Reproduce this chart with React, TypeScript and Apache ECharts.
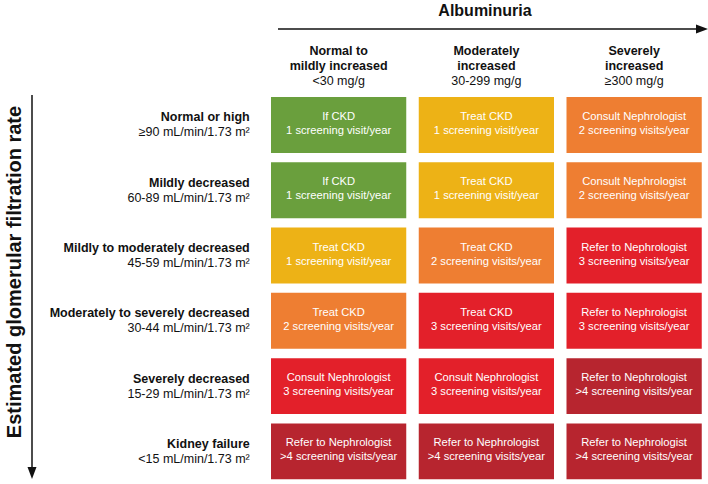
import React, { useEffect, useRef } from "react";
import * as echarts from "echarts";

const columnTitles = ["Normal to\nmildly increased", "Moderately\nincreased", "Severely\nincreased"];
const columnRanges = ["<30 mg/g", "30-299 mg/g", "≥300 mg/g"];
const rowTitles = [
  "Normal or high",
  "Mildly decreased",
  "Mildly to moderately decreased",
  "Moderately to severely decreased",
  "Severely decreased",
  "Kidney failure",
];
const rowRanges = [
  "≥90 mL/min/1.73 m²",
  "60-89 mL/min/1.73 m²",
  "45-59 mL/min/1.73 m²",
  "30-44 mL/min/1.73 m²",
  "15-29 mL/min/1.73 m²",
  "<15 mL/min/1.73 m²",
];
// rows x columns
const actions = [
  ["If CKD", "Treat CKD", "Consult Nephrologist"],
  ["If CKD", "Treat CKD", "Consult Nephrologist"],
  ["Treat CKD", "Treat CKD", "Refer to Nephrologist"],
  ["Treat CKD", "Treat CKD", "Refer to Nephrologist"],
  ["Consult Nephrologist", "Consult Nephrologist", "Refer to Nephrologist"],
  ["Refer to Nephrologist", "Refer to Nephrologist", "Refer to Nephrologist"],
];
const visits = [
  ["1 screening visit/year", "1 screening visit/year", "2 screening visits/year"],
  ["1 screening visit/year", "1 screening visit/year", "2 screening visits/year"],
  ["1 screening visit/year", "2 screening visits/year", "3 screening visits/year"],
  ["2 screening visits/year", "3 screening visits/year", "3 screening visits/year"],
  ["3 screening visits/year", "3 screening visits/year", ">4 screening visits/year"],
  [">4 screening visits/year", ">4 screening visits/year", ">4 screening visits/year"],
];
// risk level: 0 green, 1 yellow, 2 orange, 3 red, 4 dark red
const riskLevels = [
  [0, 1, 2],
  [0, 1, 2],
  [1, 2, 3],
  [2, 3, 3],
  [3, 3, 4],
  [4, 4, 4],
];
const levelColors = ["#6A9F3D", "#EDB216", "#EE7E32", "#E3202A", "#B7252F"];

const FONT = "Arial, 'Liberation Sans', sans-serif";

export default function App() {
  const ref = useRef<HTMLDivElement>(null);
  useEffect(() => {
    if (!ref.current) return;
    const chart = echarts.init(ref.current, null, { renderer: "svg" });
    const data: any[] = [];
    riskLevels.forEach((row, r) => {
      row.forEach((lvl, c) => {
        data.push([c, r, lvl, actions[r][c], visits[r][c]]);
      });
    });
    const option: any = {
      animation: false,
      textStyle: { fontFamily: FONT },
      grid: { left: 264.75, top: 92.3, width: 445.5, height: 392.4, containLabel: false },
      xAxis: {
        type: "category",
        position: "top",
        data: columnTitles.map((t, i) => t + "\n" + columnRanges[i]),
        axisLine: { show: false },
        axisTick: { show: false },
        splitLine: { show: false },
        axisLabel: {
          margin: 3,
          interval: 0,
          formatter: (_: string, i: number) =>
            columnTitles[i]
              .split("\n")
              .map((l) => "{b|" + l + "}")
              .join("\n") +
            "\n{n|" + columnRanges[i] + "}",
          rich: {
            b: { fontFamily: FONT, fontSize: 12.5, fontWeight: "bold", color: "#111", lineHeight: 15 },
            n: { fontFamily: FONT, fontSize: 12.5, color: "#111", lineHeight: 16 },
          },
        },
      },
      yAxis: {
        type: "category",
        inverse: true,
        data: rowTitles,
        axisLine: { show: false },
        axisTick: { show: false },
        splitLine: { show: false },
        axisLabel: {
          margin: 15,
          interval: 0,
          align: "right",
          formatter: (_: string, i: number) => "{b|" + rowTitles[i] + "}\n{n|" + rowRanges[i] + "}",
          rich: {
            b: { fontFamily: FONT, fontSize: 12.5, fontWeight: "bold", color: "#111", lineHeight: 15, align: "right" },
            n: { fontFamily: FONT, fontSize: 12.5, color: "#111", lineHeight: 15, align: "right" },
          },
        },
      },
      series: [
        {
          type: "custom",
          data,
          renderItem: (params: any, api: any) => {
            const c = api.coord([api.value(0), api.value(1)]);
            const s = api.size([1, 1]);
            const w = s[0] - 12.5;
            const h = s[1] - 9.4;
            const lvl = api.value(2);
            const idx = params.dataIndex;
            const d = data[idx];
            return {
              type: "group",
              children: [
                {
                  type: "rect",
                  shape: { x: c[0] - w / 2, y: c[1] - h / 2, width: w, height: h },
                  style: { fill: levelColors[lvl] },
                },
                {
                  type: "text",
                  style: {
                    x: c[0],
                    y: c[1] - 2,
                    text: d[3] + "\n" + d[4],
                    fill: "#fff",
                    fontFamily: FONT,
                    fontSize: 11.2,
                    lineHeight: 14,
                    align: "center",
                    verticalAlign: "middle",
                  },
                },
              ],
            };
          },
        },
      ],
      graphic: [
        {
          type: "text",
          x: 485,
          y: 10,
          style: {
            text: "Albuminuria",
            fontFamily: FONT,
            fontSize: 16,
            fontWeight: "bold",
            fill: "#111",
            align: "center",
            verticalAlign: "middle",
          },
        },
        {
          type: "line",
          shape: { x1: 278, y1: 29, x2: 699, y2: 29 },
          style: { stroke: "#111", lineWidth: 1.5 },
        },
        {
          type: "polygon",
          shape: { points: [[696, 24.5], [708, 29], [696, 33.5]] },
          style: { fill: "#111" },
        },
        {
          type: "line",
          shape: { x1: 32, y1: 95, x2: 32, y2: 470 },
          style: { stroke: "#111", lineWidth: 1.5 },
        },
        {
          type: "polygon",
          shape: { points: [[27.5, 467], [32, 479], [36.5, 467]] },
          style: { fill: "#111" },
        },
        {
          type: "text",
          x: 14,
          y: 272,
          rotation: Math.PI / 2,
          style: {
            text: "Estimated glomerular filtration rate",
            fontFamily: FONT,
            fontSize: 20,
            fontWeight: "bold",
            fill: "#111",
            align: "center",
            verticalAlign: "middle",
          },
        },
      ],
    };
    chart.setOption(option);
    return () => chart.dispose();
  }, []);
  return (
    <div
      ref={ref}
      style={{ position: "absolute", left: 0, top: 0, width: 708, height: 484, background: "#fff" }}
    />
  );
}
